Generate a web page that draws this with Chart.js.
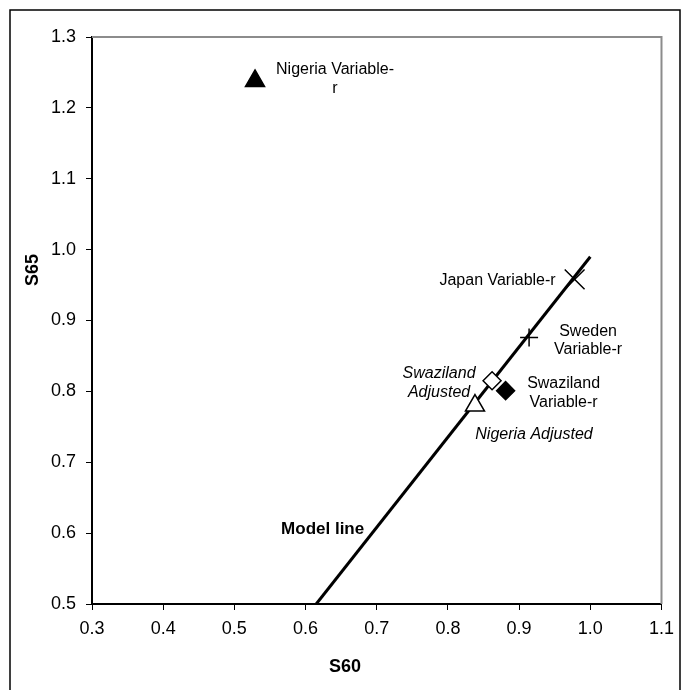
<!DOCTYPE html>
<html>
<head>
<meta charset="utf-8">
<script src="https://cdn.jsdelivr.net/npm/chart.js@4/dist/chart.umd.min.js"></script>
<style>
  html, body { margin: 0; padding: 0; background: #fff; }
  #chart { display: block; }
</style>
</head>
<body>
<canvas id="chart" width="682" height="690"></canvas>
<script>
// ===========================
// Data
// ===========================

const pointNames = ['Nigeria Variable-r', 'Nigeria Adjusted', 'Japan Variable-r', 'Sweden Variable-r', 'Swaziland Adjusted', 'Swaziland Variable-r'];
const s60Values = [0.529, 0.838, 0.978, 0.914, 0.862, 0.881];
const s65Values = [1.238, 0.780, 0.958, 0.876, 0.815, 0.801];

const modelLineS60 = [0.615, 1.0];
const modelLineS65 = [0.5, 0.99];

const xTicks = [0.3, 0.4, 0.5, 0.6, 0.7, 0.8, 0.9, 1.0, 1.1];
const yTicks = [0.5, 0.6, 0.7, 0.8, 0.9, 1.0, 1.1, 1.2, 1.3];

// ===========================
// Styles
// ===========================

const FONT = "'Liberation Sans', Arial, sans-serif";

const markerStyles = [
    { style: 'triangle', fill: '#000', radius: 11 },
    { style: 'triangle', fill: '#fff', radius: 11 },
    { style: 'crossRot', fill: '#fff', radius: 14 },
    { style: 'cross', fill: '#fff', radius: 9 },
    { style: 'rectRot', fill: '#fff', radius: 9 },
    { style: 'rectRot', fill: '#000', radius: 9 }
];

// label lines per point, with pixel offset from the marker
const pointLabels = [
    { lines: ['Nigeria Variable-', 'r'], dx: 80, dy: [-11, 8], align: 'center', italic: false },
    { lines: ['Nigeria Adjusted'], dx: 59, dy: [29], align: 'center', italic: true },
    { lines: ['Japan Variable-r'], dx: -19, dy: [1], align: 'right', italic: false },
    { lines: ['Sweden', 'Variable-r'], dx: 59, dy: [-6, 12], align: 'center', italic: false },
    { lines: ['Swaziland', 'Adjusted'], dx: -53, dy: [-7, 12], align: 'center', italic: true },
    { lines: ['Swaziland', 'Variable-r'], dx: 58, dy: [-7, 12], align: 'center', italic: false }
];

// ===========================
// Plugins
// ===========================

const framePlugin = {
    id: 'frame',
    beforeDatasetsDraw(chart) {
        const { ctx, chartArea: a } = chart;
        ctx.save();
        ctx.strokeStyle = '#8c8c8c';
        ctx.lineWidth = 2;
        ctx.beginPath();
        ctx.moveTo(a.left, a.top);
        ctx.lineTo(a.right, a.top);
        ctx.lineTo(a.right, a.bottom);
        ctx.stroke();

        // outer border of the figure
        ctx.strokeStyle = '#000';
        ctx.lineWidth = 1.5;
        ctx.beginPath();
        ctx.moveTo(10, 700);
        ctx.lineTo(10, 10);
        ctx.lineTo(680, 10);
        ctx.lineTo(680, 700);
        ctx.stroke();
        ctx.restore();
    },
    afterDatasetsDraw(chart) {
        const { ctx } = chart;
        const xs = chart.scales.x;
        const ys = chart.scales.y;
        ctx.save();
        ctx.fillStyle = '#000';
        ctx.textBaseline = 'middle';

        pointLabels.forEach((lbl, i) => {
            const px = xs.getPixelForValue(s60Values[i]);
            const py = ys.getPixelForValue(s65Values[i]);
            ctx.font = (lbl.italic ? 'italic ' : '') + '16px ' + FONT;
            ctx.textAlign = lbl.align;
            lbl.lines.forEach((line, j) => {
                ctx.fillText(line, px + lbl.dx, py + lbl.dy[j]);
            });
        });

        ctx.font = 'bold 17px ' + FONT;
        ctx.textAlign = 'center';
        ctx.fillText('Model line', xs.getPixelForValue(0.624), ys.getPixelForValue(0.605));

        // axis titles
        ctx.font = 'bold 18px ' + FONT;
        ctx.fillText('S60', 345, 667);
        ctx.translate(33, 270);
        ctx.rotate(-Math.PI / 2);
        ctx.fillText('S65', 0, 0);
        ctx.restore();
    }
};

// ===========================
// Chart
// ===========================

const ctx = document.getElementById('chart');

new Chart(ctx, {
    type: 'scatter',
    data: {
        datasets: [
            {
                label: 'Model line',
                type: 'line',
                data: modelLineS60.map((x, i) => ({ x: x, y: modelLineS65[i] })),
                borderColor: '#000',
                borderWidth: 3,
                pointRadius: 0,
                fill: false,
                order: 10
            },
            {
                label: 'Countries',
                data: s60Values.map((x, i) => ({ x: x, y: s65Values[i], name: pointNames[i] })),
                pointStyle: markerStyles.map(m => m.style),
                pointRadius: markerStyles.map(m => m.radius),
                backgroundColor: markerStyles.map(m => m.fill),
                borderColor: '#000',
                borderWidth: 1.5,
                order: 1
            }
        ]
    },
    options: {
        responsive: false,
        devicePixelRatio: 1,
        animation: false,
        layout: {
            padding: { left: 10, right: 19, top: 37, bottom: 6 }
        },
        plugins: {
            legend: { display: false },
            tooltip: { enabled: false }
        },
        scales: {
            x: {
                type: 'linear',
                min: 0.3,
                max: 1.1,
                afterBuildTicks: s => { s.ticks = xTicks.map(v => ({ value: v })); },
                afterFit: s => { s.height = 80; },
                ticks: {
                    padding: 8,
                    color: '#000',
                    font: { family: FONT, size: 18 },
                    callback: v => v.toFixed(1)
                },
                grid: {
                    drawOnChartArea: false,
                    drawTicks: true,
                    tickLength: 6,
                    color: '#000',
                    lineWidth: 1
                },
                border: { display: true, color: '#000', width: 2 }
            },
            y: {
                type: 'linear',
                min: 0.5,
                max: 1.3,
                afterBuildTicks: s => { s.ticks = yTicks.map(v => ({ value: v })); },
                afterFit: s => { s.width = 82; },
                ticks: {
                    padding: 10,
                    color: '#000',
                    font: { family: FONT, size: 18 },
                    callback: v => v.toFixed(1)
                },
                grid: {
                    drawOnChartArea: false,
                    drawTicks: true,
                    tickLength: 6,
                    color: '#000',
                    lineWidth: 1
                },
                border: { display: true, color: '#000', width: 2 }
            }
        }
    },
    plugins: [framePlugin]
});
</script>
</body>
</html>
